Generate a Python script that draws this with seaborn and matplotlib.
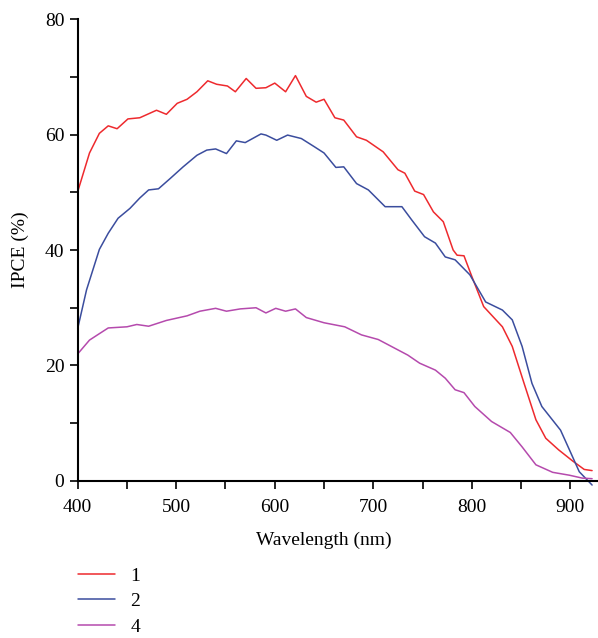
import matplotlib
matplotlib.use('Agg')
import matplotlib.pyplot as plt
from matplotlib.ticker import MultipleLocator
import seaborn as sns
import pandas as pd

# IPCE spectra
wl_1 = [400, 412, 422, 431, 440, 451, 463, 480, 490, 501, 511, 521, 532, 541, 552, 560,
        571, 581, 591, 600, 611, 621, 632, 642, 650, 661, 670, 683, 693, 710, 725, 732,
        742, 751, 761, 771, 781, 785, 792, 800, 812, 831, 841, 853, 865, 875, 888, 902,
        914, 922]
ipce_1 = [50.1, 56.8, 60.2, 61.5, 61.0, 62.7, 62.9, 64.2, 63.5, 65.4, 66.1, 67.4, 69.3, 68.7,
          68.4, 67.4, 69.7, 68.0, 68.1, 68.9, 67.4, 70.2, 66.6, 65.6, 66.1, 62.9, 62.5, 59.6,
          59.0, 57.0, 53.9, 53.3, 50.2, 49.6, 46.6, 44.9, 40.0, 39.1, 39.0, 35.4, 30.2, 26.7,
          23.3, 16.9, 10.6, 7.4, 5.4, 3.5, 2.0, 1.8]

wl_2 = [400, 409, 422, 431, 441, 453, 463, 472, 482, 494, 507, 521, 531, 540, 551, 561,
        570, 586, 591, 602, 613, 627, 640, 650, 662, 670, 683, 695, 712, 729, 739, 752,
        763, 773, 783, 798, 814, 831, 841, 851, 861, 871, 890, 899, 909, 922]
ipce_2 = [26.4, 33.1, 40.1, 42.9, 45.5, 47.2, 49.0, 50.4, 50.6, 52.4, 54.4, 56.4, 57.3, 57.5,
          56.7, 58.9, 58.6, 60.1, 59.9, 59.0, 59.9, 59.3, 57.9, 56.8, 54.3, 54.4, 51.5, 50.4,
          47.5, 47.5, 45.2, 42.3, 41.2, 38.8, 38.3, 35.7, 31.0, 29.6, 27.9, 23.3, 16.9, 12.9,
          8.8, 5.4, 1.6, -0.7]

wl_4 = [400, 412, 421, 431, 450, 460, 472, 490, 511, 524, 540, 551, 565, 581, 591, 601,
        611, 621, 632, 650, 671, 688, 705, 725, 735, 747, 763, 773, 783, 792, 803, 820,
        839, 851, 865, 882, 899, 912, 922]
ipce_4 = [22.0, 24.4, 25.4, 26.5, 26.7, 27.1, 26.8, 27.8, 28.6, 29.4, 29.9, 29.4, 29.8, 30.0,
          29.1, 29.9, 29.4, 29.8, 28.3, 27.4, 26.7, 25.3, 24.5, 22.7, 21.8, 20.4, 19.2, 17.8,
          15.8, 15.3, 12.9, 10.3, 8.4, 5.9, 2.8, 1.5, 1.0, 0.5, 0.4]

sample_labels = ['1', '2', '4']
colors = {'1': '#ee2a2e', '2': '#3b4d9e', '4': '#b54aad'}

df = pd.concat([
    pd.DataFrame({'wl': wl_1, 'ipce': ipce_1, 'sample': '1'}),
    pd.DataFrame({'wl': wl_2, 'ipce': ipce_2, 'sample': '2'}),
    pd.DataFrame({'wl': wl_4, 'ipce': ipce_4, 'sample': '4'}),
])

sns.set_theme(style="ticks")
plt.rcParams['font.family'] = ['Liberation Serif', 'DejaVu Serif']
plt.rcParams['text.color'] = 'black'

fs = 14

fig = plt.figure(figsize=(5.98, 6.38), dpi=100)
ax = fig.add_axes([0.1299, 0.2461, 0.8701, 0.7241])

sns.lineplot(data=df, x='wl', y='ipce', hue='sample', hue_order=sample_labels,
             palette=colors, linewidth=1.1, ax=ax, sort=True, estimator=None)
for line in ax.lines:
    line.set_clip_on(False)

ax.set_xlim(400, 928)
ax.set_ylim(0, 80)
ax.xaxis.set_major_locator(MultipleLocator(100))
ax.xaxis.set_minor_locator(MultipleLocator(50))
ax.yaxis.set_major_locator(MultipleLocator(20))
ax.yaxis.set_minor_locator(MultipleLocator(10))
ax.tick_params(which='both', direction='out', width=1.2, color='black',
               labelsize=fs, labelcolor='black', length=6)
ax.tick_params(axis='x', pad=7)
sns.despine(ax=ax)
for s in ['left', 'bottom']:
    ax.spines[s].set_linewidth(1.5)
    ax.spines[s].set_color('black')

ax.set_xlabel('Wavelength (nm)', fontsize=fs, color='black')
ax.set_ylabel('IPCE (%)', fontsize=fs, color='black')
ax.xaxis.set_label_coords(0.473, -0.11)
ax.yaxis.set_label_coords(-0.094, 0.5)

handles, labels = ax.get_legend_handles_labels()
ax.legend(handles, labels, loc='upper left', bbox_to_anchor=(0.0, -0.186),
          frameon=False, fontsize=fs, handlelength=1.9, handletextpad=0.8,
          labelspacing=0.42, borderpad=0, borderaxespad=0, labelcolor='black')

fig.savefig('out.png', dpi=100)
plt.close(fig)
